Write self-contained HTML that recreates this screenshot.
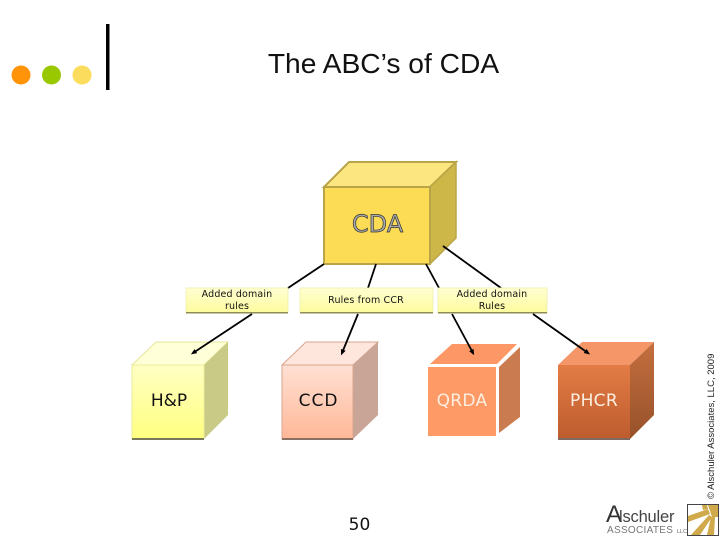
<!DOCTYPE html>
<html>
<head>
<meta charset="utf-8">
<style>
html,body{margin:0;padding:0;background:#fff;width:720px;height:540px;overflow:hidden}
svg{display:block}
text{font-family:"DejaVu Sans","Liberation Sans",sans-serif}
.t{font-family:"Liberation Sans",sans-serif}
</style>
</head>
<body>
<svg width="720" height="540" viewBox="0 0 720 540" xmlns="http://www.w3.org/2000/svg">
<defs>
<linearGradient id="hp" x1="0" y1="0" x2="0" y2="1"><stop offset="0" stop-color="#ffffc4"/><stop offset="1" stop-color="#ffff80"/></linearGradient>
<linearGradient id="ccd" x1="0" y1="0" x2="0" y2="1"><stop offset="0" stop-color="#ffe0d4"/><stop offset="1" stop-color="#ffb898"/></linearGradient>
<linearGradient id="ph" x1="0" y1="0" x2="0" y2="1"><stop offset="0" stop-color="#e37c45"/><stop offset="1" stop-color="#bd5c2e"/></linearGradient>
<linearGradient id="phr" x1="0" y1="0" x2="0" y2="1"><stop offset="0" stop-color="#c46f3f"/><stop offset="1" stop-color="#97512a"/></linearGradient>
<linearGradient id="lab" x1="0" y1="0" x2="0" y2="1"><stop offset="0" stop-color="#ffffd2"/><stop offset="1" stop-color="#fdfb9c"/></linearGradient>
<marker id="a" markerWidth="6" markerHeight="6" refX="3.500" refY="3" orient="auto" markerUnits="userSpaceOnUse"><path d="M0 0.500L6 3L0 5.500Z" fill="#000"/></marker>
</defs>

<!-- bullets and bar -->
<circle cx="21" cy="75" r="9.500" fill="#ff9409"/>
<circle cx="51.500" cy="75" r="9.500" fill="#99c800"/>
<circle cx="82" cy="75" r="9.500" fill="#fbdc5c"/>
<rect x="106" y="24" width="3.500" height="66" fill="#000"/>

<text class="t" x="383.500" y="73" font-size="28.200" text-anchor="middle" fill="#111">The ABC’s of CDA</text>

<!-- CDA cube -->
<polygon points="324,187 349,162 456,162 430,187" fill="#fce680" stroke="#b9a548" stroke-width="2"/>
<polygon points="430,187 456,162 456,238 430,264" fill="#cdb748" stroke="#b9a548" stroke-width="1.500"/>
<rect x="324" y="187" width="106" height="77" fill="#fbdc54" stroke="#b9a548" stroke-width="2"/>
<text x="377.500" y="232" font-size="24" text-anchor="middle" fill="#aaa" stroke="#333" stroke-width="0.700">CDA</text>

<!-- connectors upper -->
<g stroke="#000" stroke-width="1.800" fill="none">
<line x1="324" y1="264" x2="288" y2="288"/>
<line x1="376" y1="264" x2="368" y2="288"/>
<line x1="426" y1="264" x2="439" y2="288"/>
<line x1="443" y1="246" x2="501" y2="288"/>
</g>

<!-- labels -->
<g>
<rect x="186" y="288" width="102" height="25" fill="url(#lab)" stroke="#eeeeaa" stroke-width="0.800"/>
<rect x="186" y="312" width="102" height="1.500" fill="#8f8d55"/>
<rect x="300" y="288" width="133" height="25" fill="url(#lab)" stroke="#eeeeaa" stroke-width="0.800"/>
<rect x="300" y="312" width="133" height="1.500" fill="#8f8d55"/>
<rect x="438" y="288" width="109" height="25" fill="url(#lab)" stroke="#eeeeaa" stroke-width="0.800"/>
<rect x="438" y="312" width="109" height="1.500" fill="#8f8d55"/>
</g>
<g font-size="9.500" text-anchor="middle" fill="#111" letter-spacing="0.150">
<text x="237" y="297">Added domain</text>
<text x="237" y="309">rules</text>
<text x="366" y="303">Rules from CCR</text>
<text x="492" y="297">Added domain</text>
<text x="492" y="309">Rules</text>
</g>

<!-- H&P -->
<polygon points="132,365 156,342 228,342 204,365" fill="#ffffd8" stroke="#e6e69a" stroke-width="1"/>
<polygon points="204,365 228,342 228,415 204,439" fill="#c9ca85"/>
<rect x="132" y="365" width="72" height="74" fill="url(#hp)" stroke="#ecec9a" stroke-width="1"/>
<rect x="132" y="438" width="72" height="2" fill="#77775a"/>
<text x="169" y="406" font-size="17" text-anchor="middle" fill="#111">H&amp;P</text>

<!-- CCD -->
<polygon points="282,365 306,342 378,342 353,365" fill="#ffe6dc" stroke="#d9a58e" stroke-width="1"/>
<polygon points="353,365 378,342 378,415 353,439" fill="#c8a596"/>
<rect x="282" y="365" width="71" height="74" fill="url(#ccd)" stroke="#d9a58e" stroke-width="1"/>
<rect x="282" y="438" width="71" height="2" fill="#8a6f63"/>
<text x="318.500" y="406" font-size="17" text-anchor="middle" fill="#111" letter-spacing="1">CCD</text>

<!-- QRDA -->
<polygon points="430,364 452,344 517,344 497,364" fill="#fd9866"/>
<polygon points="499,367 520,347 520,417 499,433" fill="#cb7b50"/>
<rect x="428" y="367" width="68" height="69" fill="#fe9a66"/>
<text x="462" y="406" font-size="17" text-anchor="middle" fill="#fbeee0" letter-spacing="0.300">QRDA</text>

<!-- PHCR -->
<polygon points="558,365 582,342 654,342 630,365" fill="#f49668"/>
<polygon points="630,365 654,342 654,415 630,439" fill="url(#phr)"/>
<rect x="558" y="365" width="72" height="74" fill="url(#ph)"/>
<rect x="558" y="438" width="72" height="2" fill="#7d6a60"/>
<text x="594" y="406" font-size="17" text-anchor="middle" fill="#fbeee0" letter-spacing="0.300">PHCR</text>

<!-- connectors lower -->
<g stroke="#000" stroke-width="1.800" fill="none" marker-end="url(#a)">
<line x1="252" y1="314" x2="193" y2="353"/>
<line x1="358" y1="314" x2="342" y2="353"/>
<line x1="452" y1="314" x2="473" y2="353"/>
<line x1="533" y1="314" x2="588" y2="353"/>
</g>

<text x="359.500" y="530" font-size="17" text-anchor="middle" fill="#111">50</text>

<!-- copyright -->
<text class="t" transform="translate(714,499) rotate(-90)" font-size="9.500" fill="#222">© Alschuler Associates, LLC, 2009</text>

<!-- logo -->
<text class="t" x="606" y="522" font-size="24" fill="#333" letter-spacing="-1">A</text>
<text class="t" x="619" y="522" font-size="16.500" fill="#444" letter-spacing="-0.200">lschuler</text>
<text class="t" x="607" y="533" font-size="10" fill="#777" letter-spacing="0.300">ASSOCIATES</text>
<text class="t" x="677" y="533" font-size="5.500" fill="#666">LLC</text>
<rect x="687.500" y="504.500" width="31" height="31" fill="#fff" stroke="#444" stroke-width="1"/>
<g fill="#cfa94a">
<polygon points="708,505 718,505 718,517 712,517"/>
<polygon points="708,509 688,516 688,522 710,514"/>
<polygon points="709,515 691,535 700,535 712,517"/>
<polygon points="711,517 707,535 714,535 715,517"/>
<polygon points="702,505 707,505 708,509 703,510"/>
</g>
</svg>
</body>
</html>
